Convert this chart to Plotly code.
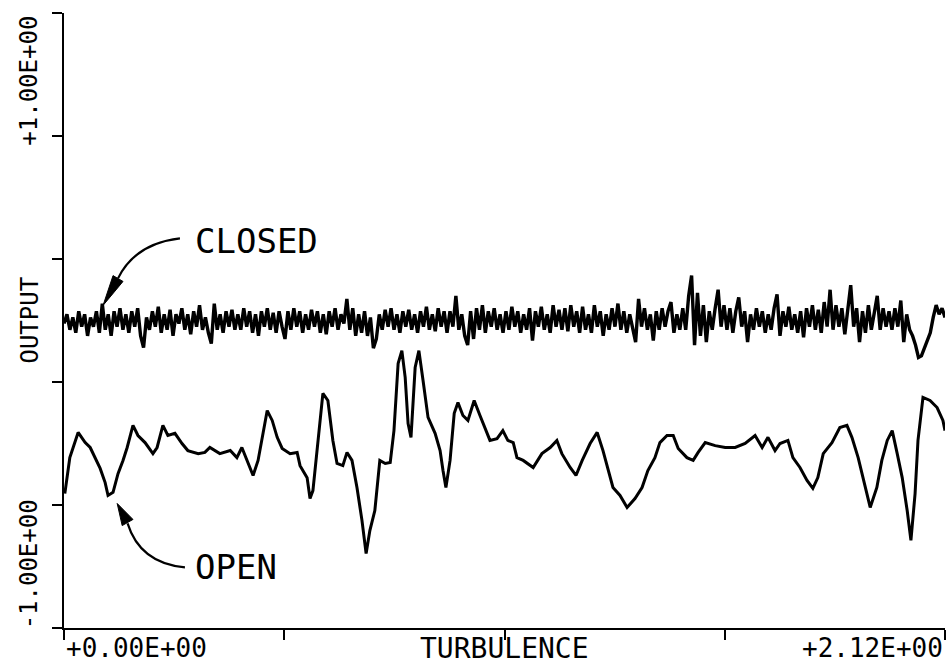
import numpy as np
import plotly.graph_objects as go

# ---------------- data ----------------
x_range = [0.0, 2.12]
y_range = [-1.0, 1.0]
x_tickvals = [0.0, 0.53, 1.06, 1.59, 2.12]
y_tickvals = [-1.0, -0.6, -0.2, 0.2, 0.6, 1.0]

y_top_label = "+1.00E+00"
y_bottom_label = "-1.00E+00"
y_title = "OUTPUT"
x_left_label = "+0.00E+00"
x_title = "TURBULENCE"
x_right_label = "+2.12E+00"

# CLOSED trace (noisy, sampled uniformly across the turbulence span)
closed_y = [
    -0.01, 0.02, -0.03, 0.01, -0.04, 0.03, -0.02, 0.02, -0.05, 0.01,
    -0.02, 0.03, -0.04, 0.055, -0.03, 0.02, -0.05, 0.03, -0.02, 0.04,
    -0.03, 0.02, -0.04, 0.03, -0.02, 0.04, -0.05, -0.088, 0.01, -0.03,
    0.03, -0.02, 0.045, -0.04, 0.02, -0.03, 0.035, -0.05, 0.02, -0.01,
    0.04, -0.03, 0.02, -0.045, 0.03, -0.02, 0.05, -0.03, 0.01, -0.04,
    -0.075, 0.055, -0.03, 0.02, -0.04, 0.03, -0.02, 0.035, -0.03, 0.02,
    -0.03, 0.04, -0.02, 0.03, -0.04, 0.02, -0.05, 0.03, -0.02, 0.04,
    -0.03, 0.025, -0.04, 0.03, -0.02, -0.06, 0.03, -0.03, 0.04, -0.02,
    0.03, -0.04, 0.02, -0.03, 0.035, -0.02, 0.03, -0.04, 0.02, -0.045,
    0.03, -0.02, 0.04, -0.03, 0.02, -0.01, 0.07, -0.03, 0.04, -0.05,
    0.02, -0.04, 0.03, -0.05, 0.01, -0.09, -0.06, 0.02, -0.03, 0.035,
    -0.02, 0.04, -0.03, 0.02, -0.04, 0.03, -0.02, 0.035, -0.03, 0.02,
    -0.04, 0.03, -0.02, 0.045, -0.03, 0.02, -0.035, 0.04, -0.02, 0.03,
    -0.04, 0.03, -0.02, 0.08, -0.03, 0.02, -0.05, -0.08, 0.03, -0.06,
    0.04, -0.03, 0.05, -0.04, 0.03, -0.02, 0.04, -0.03, 0.02, -0.04,
    0.03, -0.03, 0.045, -0.02, 0.03, -0.04, 0.02, -0.03, 0.04, -0.065,
    0.03, -0.02, 0.045, -0.03, 0.02, -0.04, 0.05, -0.02, 0.035, -0.03,
    0.04, -0.035, 0.05, -0.02, 0.03, -0.04, 0.045, -0.03, 0.02, -0.04,
    0.05, -0.02, 0.03, -0.05, 0.02, -0.03, 0.04, -0.02, 0.055, -0.03,
    0.03, -0.04, 0.02, -0.03, -0.07, 0.07, -0.02, 0.04, -0.03, 0.02,
    -0.065, 0.03, -0.03, 0.04, -0.02, 0.03, 0.06, -0.04, 0.02, -0.03,
    0.04, -0.03, 0.08, 0.146, -0.08, 0.09, -0.05, 0.05, -0.07, 0.03,
    -0.03, 0.04, 0.10, -0.02, 0.05, -0.03, 0.04, -0.04, 0.03, 0.075,
    -0.02, 0.03, -0.07, 0.02, -0.03, 0.04, -0.02, 0.03, -0.04, 0.02,
    -0.03, 0.04, 0.085, -0.05, 0.03, -0.02, 0.045, -0.03, 0.02, -0.04,
    0.03, -0.055, 0.04, -0.02, 0.05, -0.03, 0.035, -0.04, 0.06, -0.02,
    0.10, -0.03, 0.05, -0.02, 0.04, -0.045, 0.03, 0.115, -0.02, 0.04,
    -0.07, 0.03, -0.04, 0.05, -0.03, 0.02, 0.08, -0.03, 0.04, -0.02,
    0.03, -0.03, 0.04, -0.02, 0.065, -0.07, 0.02, -0.03, -0.05, -0.08,
    -0.12, -0.115, -0.09, -0.06, -0.04, 0.01, 0.05, 0.02, 0.04, 0.01,
]
closed_x = np.linspace(x_range[0], x_range[1], len(closed_y))

# OPEN trace (read point by point)
open_x = [
    0.002, 0.014, 0.034, 0.051, 0.063, 0.075, 0.087, 0.099, 0.106, 0.118,
    0.130, 0.142, 0.152, 0.166, 0.178, 0.195, 0.214, 0.224, 0.238, 0.250,
    0.267, 0.284, 0.298, 0.323, 0.339, 0.351, 0.375, 0.400, 0.416, 0.428,
    0.440, 0.455, 0.467, 0.477, 0.489, 0.501, 0.513, 0.525, 0.544, 0.561,
    0.568, 0.585, 0.592, 0.599, 0.611, 0.623, 0.635, 0.647, 0.657, 0.671,
    0.681, 0.693, 0.705, 0.717, 0.727, 0.736, 0.748, 0.760, 0.773, 0.785,
    0.794, 0.804, 0.813, 0.821, 0.828, 0.835, 0.845, 0.854, 0.864, 0.876,
    0.893, 0.905, 0.912, 0.919, 0.929, 0.939, 0.948, 0.960, 0.972, 0.987,
    1.001, 1.013, 1.025, 1.042, 1.056, 1.068, 1.081, 1.090, 1.105, 1.129,
    1.150, 1.170, 1.186, 1.198, 1.218, 1.232, 1.247, 1.266, 1.283, 1.297,
    1.309, 1.321, 1.338, 1.355, 1.374, 1.391, 1.405, 1.422, 1.434, 1.451,
    1.466, 1.478, 1.499, 1.514, 1.526, 1.543, 1.567, 1.591, 1.615, 1.639,
    1.663, 1.680, 1.694, 1.711, 1.723, 1.742, 1.754, 1.771, 1.788, 1.802,
    1.814, 1.827, 1.848, 1.867, 1.884, 1.896, 1.911, 1.923, 1.940, 1.956,
    1.968, 1.981, 1.993, 2.005, 2.017, 2.029, 2.038, 2.048, 2.055, 2.067,
    2.084, 2.101, 2.115, 2.120,
]
open_y = [
    -0.563, -0.446, -0.364, -0.397, -0.413, -0.449, -0.481, -0.527, -0.569, -0.559,
    -0.498, -0.455, -0.413, -0.341, -0.374, -0.397, -0.433, -0.413, -0.341, -0.374,
    -0.367, -0.400, -0.423, -0.433, -0.429, -0.413, -0.433, -0.423, -0.446, -0.413,
    -0.455, -0.504, -0.455, -0.380, -0.293, -0.325, -0.380, -0.416, -0.433, -0.429,
    -0.472, -0.511, -0.579, -0.553, -0.400, -0.237, -0.260, -0.390, -0.465, -0.472,
    -0.429, -0.455, -0.543, -0.650, -0.758, -0.683, -0.618, -0.455, -0.465, -0.462,
    -0.358, -0.140, -0.098, -0.185, -0.335, -0.380, -0.153, -0.098, -0.195, -0.315,
    -0.367, -0.423, -0.488, -0.543, -0.455, -0.302, -0.267, -0.309, -0.325, -0.260,
    -0.309, -0.348, -0.390, -0.384, -0.358, -0.390, -0.397, -0.446, -0.455, -0.478,
    -0.433, -0.413, -0.390, -0.433, -0.478, -0.504, -0.455, -0.400, -0.364, -0.423,
    -0.488, -0.543, -0.569, -0.608, -0.579, -0.543, -0.488, -0.446, -0.397, -0.374,
    -0.374, -0.416, -0.446, -0.455, -0.429, -0.397, -0.407, -0.413, -0.413, -0.400,
    -0.374, -0.413, -0.380, -0.423, -0.400, -0.390, -0.446, -0.478, -0.520, -0.546,
    -0.511, -0.433, -0.397, -0.348, -0.341, -0.380, -0.446, -0.511, -0.608, -0.543,
    -0.455, -0.390, -0.358, -0.433, -0.511, -0.618, -0.715, -0.563, -0.390, -0.250,
    -0.260, -0.283, -0.325, -0.358,
]

# annotation texts and anchor points (data units)
closed_label = "CLOSED"
open_label = "OPEN"
closed_label_pos = (0.464, 0.257)
open_label_pos = (0.414, -0.800)

# ---------------- figure ----------------
FONT = "DejaVu Sans Mono"
INK = "black"

fig = go.Figure()
fig.add_trace(go.Scatter(x=closed_x, y=closed_y, mode="lines",
                         line=dict(color=INK, width=3.4), name=closed_label,
                         hoverinfo="skip"))
fig.add_trace(go.Scatter(x=open_x, y=open_y, mode="lines",
                         line=dict(color=INK, width=3), name=open_label,
                         hoverinfo="skip"))

# curved arrows (bezier lines + filled heads)
shapes = [
    dict(type="path", xref="x", yref="y",
         path="M 0.279,0.267 Q 0.171,0.250 0.130,0.137",
         line=dict(color=INK, width=2.2)),
    dict(type="path", xref="x", yref="y",
         path="M 0.142,0.127 L 0.094,0.049 L 0.118,0.146 Z",
         fillcolor=INK, line=dict(color=INK, width=1)),
    dict(type="path", xref="x", yref="y",
         path="M 0.291,-0.803 Q 0.183,-0.790 0.153,-0.660",
         line=dict(color=INK, width=2.2)),
    dict(type="path", xref="x", yref="y",
         path="M 0.166,-0.647 L 0.128,-0.595 L 0.140,-0.667 Z",
         fillcolor=INK, line=dict(color=INK, width=1)),
]

ylab_font = dict(family=FONT, size=24, color=INK)
xlab_font = dict(family=FONT, size=26, color=INK)
annotations = [
    dict(text=closed_label, x=closed_label_pos[0], y=closed_label_pos[1],
         xref="x", yref="y", showarrow=False, xanchor="center", yanchor="middle",
         font=dict(family=FONT, size=34, color=INK)),
    dict(text=open_label, x=open_label_pos[0], y=open_label_pos[1],
         xref="x", yref="y", showarrow=False, xanchor="center", yanchor="middle",
         font=dict(family=FONT, size=34, color=INK)),
    # y-axis labels (rotated)
    dict(text=y_top_label, x=-0.0397, y=0.780, xref="paper", yref="y",
         textangle=-90, showarrow=False, xanchor="center", yanchor="middle",
         font=ylab_font),
    dict(text=y_title, x=-0.0397, y=0.0, xref="paper", yref="y",
         textangle=-90, showarrow=False, xanchor="center", yanchor="middle",
         font=ylab_font),
    dict(text=y_bottom_label, x=-0.0397, y=-0.793, xref="paper", yref="y",
         textangle=-90, showarrow=False, xanchor="center", yanchor="middle",
         font=ylab_font),
    # x-axis labels
    dict(text=x_left_label, x=0.0, y=-0.033, xref="x", yref="paper",
         showarrow=False, xanchor="left", yanchor="middle", font=xlab_font),
    dict(text=x_title, x=1.061, y=-0.033, xref="x", yref="paper",
         showarrow=False, xanchor="center", yanchor="middle",
         font=dict(family=FONT, size=28, color=INK)),
    dict(text=x_right_label, x=2.12, y=-0.033, xref="x", yref="paper",
         showarrow=False, xanchor="right", yanchor="middle", font=xlab_font),
]

fig.update_layout(
    width=947, height=666,
    margin=dict(l=64, r=2, t=13, b=38),
    plot_bgcolor="white", paper_bgcolor="white",
    showlegend=False,
    shapes=shapes, annotations=annotations,
    xaxis=dict(range=x_range, showgrid=False, zeroline=False,
               showline=True, linecolor=INK, linewidth=2,
               ticks="outside", ticklen=10, tickwidth=2, tickcolor=INK,
               tickvals=x_tickvals, showticklabels=False, fixedrange=True),
    yaxis=dict(range=y_range, showgrid=False, zeroline=False,
               showline=True, linecolor=INK, linewidth=2,
               ticks="outside", ticklen=10, tickwidth=2, tickcolor=INK,
               tickvals=y_tickvals, showticklabels=False, fixedrange=True),
)

fig.write_html("out.html")
